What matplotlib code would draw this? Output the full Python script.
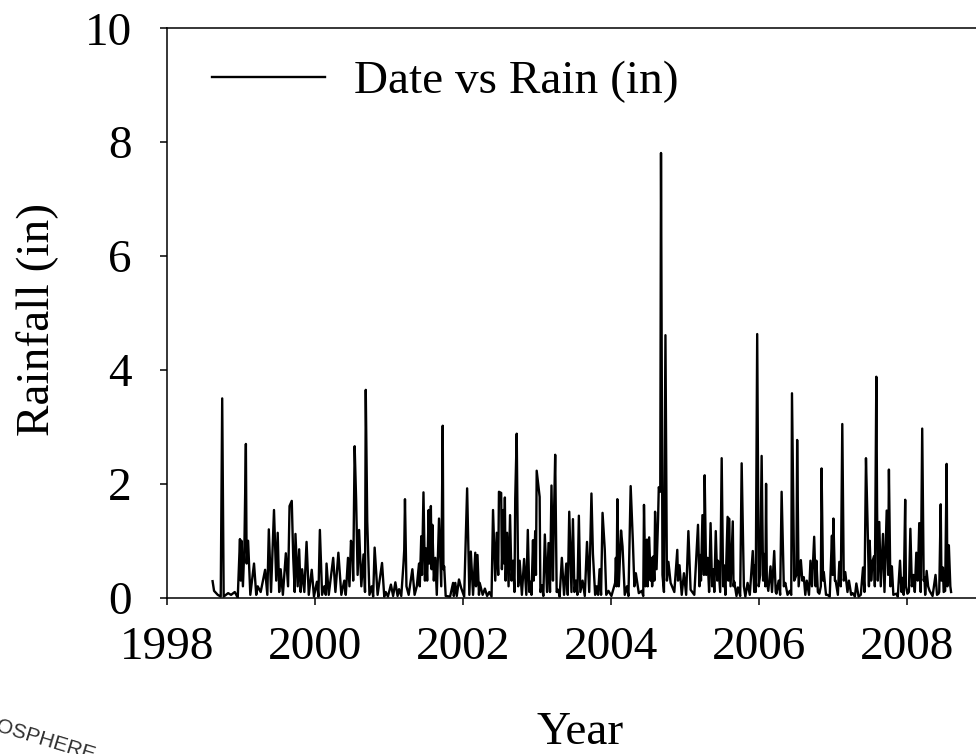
import matplotlib
matplotlib.use("Agg")
import matplotlib.pyplot as plt

# daily rainfall (decimal year, inches)
years = [
    1998.62, 1998.64, 1998.69, 1998.73, 1998.75, 1998.77, 1998.83, 1998.87, 1998.92, 1998.96,
    1998.99, 1999.00, 1999.01, 1999.03, 1999.05, 1999.07, 1999.08, 1999.10, 1999.13, 1999.18,
    1999.21, 1999.23, 1999.27, 1999.33, 1999.36, 1999.38, 1999.41, 1999.45, 1999.48, 1999.50,
    1999.52, 1999.54, 1999.57, 1999.61, 1999.64, 1999.66, 1999.69, 1999.71, 1999.73, 1999.74,
    1999.77, 1999.79, 1999.81, 1999.83, 1999.86, 1999.89, 1999.92, 1999.96, 1999.99, 2000.03,
    2000.05, 2000.07, 2000.10, 2000.13, 2000.15, 2000.16, 2000.19, 2000.25, 2000.28, 2000.32,
    2000.36, 2000.40, 2000.42, 2000.45, 2000.47, 2000.49, 2000.51, 2000.52, 2000.54, 2000.56,
    2000.58, 2000.60, 2000.63, 2000.66, 2000.68, 2000.69, 2000.71, 2000.74, 2000.77, 2000.79,
    2000.81, 2000.85, 2000.91, 2000.94, 2000.96, 2000.99, 2001.03, 2001.06, 2001.09, 2001.12,
    2001.14, 2001.17, 2001.20, 2001.21, 2001.22, 2001.24, 2001.27, 2001.32, 2001.35, 2001.38,
    2001.41, 2001.42, 2001.44, 2001.45, 2001.47, 2001.49, 2001.50, 2001.52, 2001.54, 2001.55,
    2001.57, 2001.58, 2001.59, 2001.61, 2001.63, 2001.65, 2001.68, 2001.71, 2001.73, 2001.74,
    2001.75, 2001.77, 2001.83, 2001.87, 2001.88, 2001.90, 2001.92, 2001.95, 2001.98, 2002.02,
    2002.06, 2002.09, 2002.11, 2002.14, 2002.17, 2002.18, 2002.20, 2002.22, 2002.23, 2002.27,
    2002.30, 2002.33, 2002.36, 2002.39, 2002.41, 2002.44, 2002.46, 2002.48, 2002.49, 2002.52,
    2002.53, 2002.55, 2002.56, 2002.57, 2002.58, 2002.60, 2002.62, 2002.64, 2002.66, 2002.68,
    2002.70, 2002.71, 2002.73, 2002.75, 2002.77, 2002.80, 2002.83, 2002.86, 2002.88, 2002.90,
    2002.92, 2002.93, 2002.95, 2002.96, 2002.98, 2002.99, 2003.00, 2003.04, 2003.05, 2003.07,
    2003.09, 2003.11, 2003.14, 2003.16, 2003.18, 2003.20, 2003.22, 2003.23, 2003.25, 2003.27,
    2003.29, 2003.31, 2003.34, 2003.37, 2003.40, 2003.42, 2003.44, 2003.47, 2003.49, 2003.51,
    2003.53, 2003.55, 2003.57, 2003.59, 2003.62, 2003.65, 2003.68, 2003.71, 2003.74, 2003.76,
    2003.79, 2003.81, 2003.83, 2003.85, 2003.87, 2003.89, 2003.92, 2003.94, 2003.97, 2004.01,
    2004.06, 2004.07, 2004.08, 2004.09, 2004.11, 2004.14, 2004.16, 2004.19, 2004.22, 2004.24,
    2004.27, 2004.30, 2004.32, 2004.34, 2004.38, 2004.42, 2004.44, 2004.45, 2004.47, 2004.49,
    2004.50, 2004.52, 2004.54, 2004.55, 2004.56, 2004.58, 2004.59, 2004.60, 2004.62, 2004.64,
    2004.65, 2004.67, 2004.68, 2004.70, 2004.72, 2004.74, 2004.76, 2004.78, 2004.81, 2004.86,
    2004.90, 2004.91, 2004.93, 2004.96, 2004.99, 2005.02, 2005.05, 2005.08, 2005.13, 2005.18,
    2005.20, 2005.21, 2005.22, 2005.24, 2005.26, 2005.27, 2005.29, 2005.31, 2005.33, 2005.35,
    2005.37, 2005.39, 2005.40, 2005.42, 2005.44, 2005.45, 2005.48, 2005.50, 2005.52, 2005.53,
    2005.55, 2005.58, 2005.59, 2005.60, 2005.62, 2005.65, 2005.66, 2005.67, 2005.70, 2005.72,
    2005.75, 2005.77, 2005.80, 2005.82, 2005.85, 2005.88, 2005.92, 2005.94, 2005.95, 2005.96,
    2005.98, 2006.00, 2006.02, 2006.04, 2006.06, 2006.07, 2006.09, 2006.10, 2006.11, 2006.13,
    2006.16, 2006.18, 2006.21, 2006.23, 2006.24, 2006.27, 2006.29, 2006.31, 2006.34, 2006.36,
    2006.39, 2006.42, 2006.44, 2006.45, 2006.48, 2006.51, 2006.52, 2006.54, 2006.57, 2006.59,
    2006.61, 2006.63, 2006.65, 2006.68, 2006.70, 2006.72, 2006.75, 2006.77, 2006.78, 2006.80,
    2006.82, 2006.84, 2006.85, 2006.87, 2006.88, 2006.91, 2006.93, 2006.96, 2006.99, 2007.00,
    2007.01, 2007.03, 2007.04, 2007.07, 2007.09, 2007.11, 2007.13, 2007.15, 2007.17, 2007.20,
    2007.22, 2007.25, 2007.27, 2007.30, 2007.32, 2007.35, 2007.38, 2007.41, 2007.43, 2007.45,
    2007.47, 2007.49, 2007.50, 2007.52, 2007.54, 2007.56, 2007.57, 2007.59, 2007.60, 2007.61,
    2007.63, 2007.65, 2007.68, 2007.70, 2007.73, 2007.75, 2007.76, 2007.78, 2007.80, 2007.82,
    2007.86, 2007.88, 2007.91, 2007.93, 2007.95, 2007.96, 2007.98, 2007.99, 2008.01, 2008.03,
    2008.05, 2008.07, 2008.09, 2008.11, 2008.13, 2008.15, 2008.17, 2008.19, 2008.21, 2008.23,
    2008.24, 2008.25, 2008.27, 2008.29, 2008.31, 2008.35, 2008.39, 2008.41, 2008.43, 2008.44,
    2008.46, 2008.47, 2008.49, 2008.50, 2008.52, 2008.54, 2008.55, 2008.57, 2008.59, 2008.60,
]
rain = [
    0.29, 0.12, 0.05, 0.02, 3.50, 0.02, 0.08, 0.05, 0.10, 0.00,
    1.03, 0.30, 1.00, 0.20, 0.90, 2.70, 0.60, 1.00, 0.05, 0.60,
    0.05, 0.20, 0.10, 0.49, 0.05, 1.20, 0.10, 1.54, 0.30, 1.14,
    0.10, 0.50, 0.05, 0.78, 0.20, 1.61, 1.70, 0.70, 0.10, 1.12,
    0.20, 0.85, 0.10, 0.50, 0.10, 0.98, 0.05, 0.49, 0.02, 0.28,
    0.02, 1.19, 0.05, 0.20, 0.05, 0.60, 0.05, 0.70, 0.10, 0.79,
    0.05, 0.30, 0.05, 0.70, 0.20, 1.00, 0.84, 0.30, 2.66, 1.72,
    0.40, 1.19, 0.20, 0.76, 0.10, 3.65, 1.34, 0.05, 0.20, 0.02,
    0.88, 0.05, 0.61, 0.02, 0.10, 0.02, 0.23, 0.03, 0.27, 0.03,
    0.15, 0.03, 0.60, 0.84, 1.73, 0.20, 0.05, 0.50, 0.05, 0.20,
    0.60, 0.20, 1.08, 0.40, 1.85, 0.30, 0.87, 0.30, 1.54, 0.60,
    1.61, 0.50, 1.28, 0.30, 0.70, 0.05, 1.39, 0.20, 3.02, 0.50,
    0.55, 0.03, 0.02, 0.26, 0.03, 0.26, 0.03, 0.32, 0.17, 0.02,
    1.92, 0.05, 0.81, 0.05, 0.79, 0.20, 0.75, 0.05, 0.26, 0.05,
    0.16, 0.03, 0.10, 0.02, 1.54, 0.30, 1.14, 0.40, 1.86, 1.84,
    0.50, 1.54, 0.60, 1.76, 0.30, 1.14, 0.20, 1.45, 0.30, 0.65,
    0.10, 1.74, 2.88, 0.20, 0.65, 0.05, 0.68, 0.05, 1.19, 0.10,
    0.28, 0.05, 1.01, 0.30, 1.17, 0.40, 2.23, 1.77, 0.10, 0.22,
    0.03, 1.11, 0.10, 0.96, 0.10, 1.97, 0.30, 1.19, 2.51, 0.10,
    0.14, 0.02, 0.70, 0.05, 0.60, 0.05, 1.51, 0.10, 1.38, 0.10,
    0.30, 0.05, 1.44, 0.10, 0.30, 0.03, 0.98, 0.10, 1.83, 0.77,
    0.05, 0.20, 0.05, 0.50, 0.05, 1.49, 0.85, 0.05, 0.12, 0.03,
    0.26, 0.70, 0.20, 1.73, 0.20, 1.18, 0.90, 0.05, 0.20, 0.03,
    1.96, 0.98, 0.20, 0.43, 0.08, 0.12, 0.03, 1.63, 0.20, 1.02,
    0.20, 1.06, 0.30, 0.70, 0.20, 0.73, 0.30, 1.51, 0.50, 1.36,
    1.94, 1.86, 7.81, 0.40, 0.10, 4.61, 0.30, 0.63, 0.26, 0.10,
    0.84, 0.30, 0.57, 0.05, 0.43, 0.05, 1.17, 0.14, 0.05, 1.28,
    0.20, 0.75, 0.30, 1.45, 0.40, 2.15, 0.40, 0.70, 0.10, 1.31,
    0.20, 0.50, 0.10, 1.17, 0.30, 0.65, 0.10, 2.45, 0.20, 0.57,
    0.05, 1.42, 0.30, 1.39, 0.20, 1.34, 0.20, 0.28, 0.03, 0.18,
    0.03, 2.36, 0.20, 0.02, 0.26, 0.05, 0.82, 0.10, 0.57, 0.10,
    4.63, 0.20, 0.40, 2.49, 0.30, 0.77, 0.20, 2.00, 0.30, 0.12,
    0.55, 0.10, 0.82, 0.10, 0.07, 0.30, 0.05, 1.86, 0.20, 0.26,
    0.05, 0.12, 0.05, 3.59, 0.30, 0.40, 2.77, 0.20, 0.66, 0.30,
    0.36, 0.05, 0.30, 0.05, 0.65, 0.20, 1.07, 0.20, 0.65, 0.10,
    0.07, 0.20, 2.27, 0.30, 0.45, 0.05, 0.05, 0.02, 1.09, 0.40,
    1.39, 0.30, 0.30, 0.05, 0.63, 0.20, 3.05, 0.30, 0.45, 0.10,
    0.30, 0.05, 0.08, 0.02, 0.25, 0.02, 0.05, 0.53, 0.10, 2.45,
    1.39, 0.20, 1.00, 0.30, 0.65, 0.73, 0.20, 3.88, 1.60, 0.30,
    1.33, 0.20, 1.12, 0.10, 1.53, 0.40, 2.25, 0.20, 0.55, 0.05,
    0.07, 0.02, 0.65, 0.10, 0.35, 0.05, 1.72, 0.20, 0.07, 0.10,
    1.21, 0.20, 0.40, 0.10, 0.79, 0.30, 1.31, 0.10, 2.97, 0.30,
    0.36, 0.05, 0.47, 0.20, 0.12, 0.03, 0.40, 0.05, 0.07, 0.10,
    1.64, 0.30, 0.53, 0.10, 0.12, 2.35, 0.20, 0.92, 0.20, 0.10,
]
x_ticks = [1998, 2000, 2002, 2004, 2006, 2008]
y_ticks = [0, 2, 4, 6, 8, 10]

plt.rcParams['font.family'] = ['Liberation Serif', 'DejaVu Serif']

fig = plt.figure(figsize=(9.76, 7.54), dpi=100)
# the right part of the axes runs past the edge of the picture
ax = fig.add_axes([0.1708, 0.2073, 0.9098, 0.7552])

ax.plot(years, rain, color='black', linewidth=1.7, label='Date vs Rain (in)')

ax.set_xlim(1998, 2010)
ax.set_ylim(0, 10)
ax.set_xticks(x_ticks)
ax.set_yticks(y_ticks)

for side in ['left', 'bottom', 'top', 'right']:
    ax.spines[side].set_linewidth(1.1)
ax.tick_params(direction='out', length=5, width=1.1, labelsize=34)
ax.tick_params(axis='x', pad=16)
ax.tick_params(axis='y', pad=20)

ax.set_xlabel('Year', fontsize=34)
ax.xaxis.set_label_coords(0.4654, -0.238)
ax.xaxis.label.set_va('center')
ax.set_ylabel('Rainfall (in)', fontsize=34)
ax.yaxis.set_label_coords(-0.145, 0.488)
ax.yaxis.label.set_va('center')

ax.legend(loc='center left', bbox_to_anchor=(0.051, 0.9057), frameon=False,
          fontsize=34, handlelength=2.4, handletextpad=0.6,
          borderpad=0, borderaxespad=0)

# bit of a logo stamp cut off in the lower left corner
fig.text(-0.006, 0.018, 'OSPHERE', rotation=-17, fontsize=15,
         color='#303030', family='Liberation Sans', ha='left', va='center')

fig.savefig('out.png', dpi=100)
